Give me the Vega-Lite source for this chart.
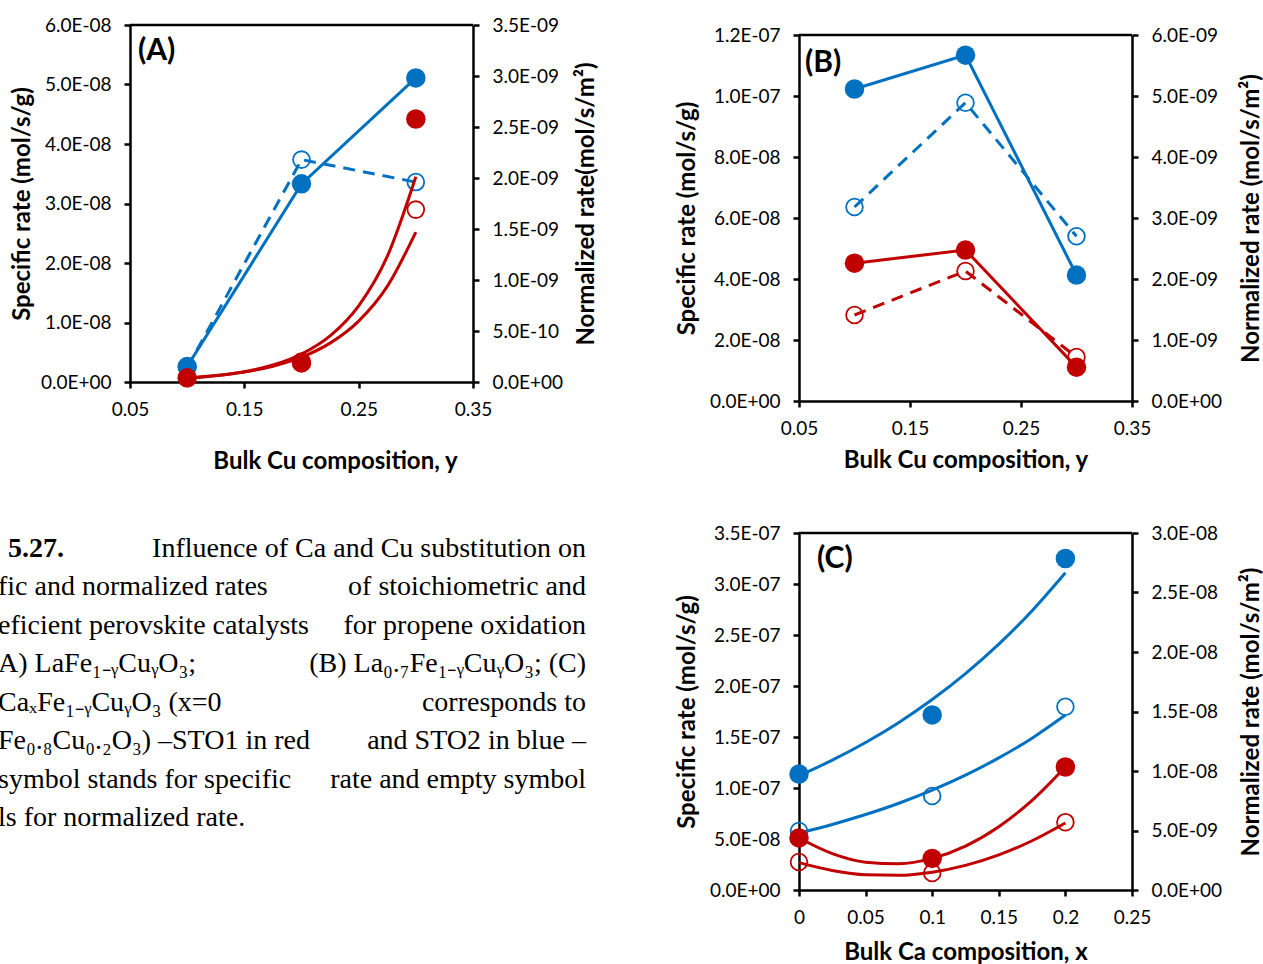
{
"$schema":"https://vega.github.io/schema/vega-lite/v6.json",
"autosize":{"type":"none"},
"padding":{"left":130,"top":25,"right":1133,"bottom":939},
"background":"white",
"config":{
  "view":{"stroke":null},
  "font":"Lato",
  "axis":{"domainColor":"#000","domainWidth":2.5,"tickColor":"#000","tickWidth":2.5,"tickSize":6,"grid":false,
    "labelColor":"#000","labelFont":"Lato","labelFontSize":19,"labelPadding":13,"labelFlush":false,"labelOverlap":false,"labelBound":false,
    "titleColor":"#000","titleFont":"Lato","titleFontSize":24,"titleFontWeight":"bold"},
  "axisX":{"labelPadding":12}
},
"datasets":{
  "A_spec":[{"x":0.1,"v":2.6e-9,"s":"STO2"},{"x":0.2,"v":3.33e-8,"s":"STO2"},{"x":0.3,"v":5.11e-8,"s":"STO2"},
            {"x":0.1,"v":7e-10,"s":"STO1"},{"x":0.2,"v":3.2e-9,"s":"STO1"},{"x":0.3,"v":4.42e-8,"s":"STO1"}],
  "A_norm":[{"x":0.1,"v":1.4e-10,"s":"STO2"},{"x":0.2,"v":2.18e-9,"s":"STO2"},{"x":0.3,"v":1.96e-9,"s":"STO2"},
            {"x":0.1,"v":4e-11,"s":"STO1"},{"x":0.2,"v":2.0e-10,"s":"STO1"},{"x":0.3,"v":1.69e-9,"s":"STO1"}],
  "A_fit_spec":[{"x":0.1,"v":6.4e-10,"s":"STO1"},{"x":0.125,"v":1.05e-9,"s":"STO1"},{"x":0.15,"v":1.73e-9,"s":"STO1"},{"x":0.175,"v":2.85e-9,"s":"STO1"},{"x":0.2,"v":4.7e-9,"s":"STO1"},{"x":0.225,"v":7.75e-9,"s":"STO1"},{"x":0.25,"v":1.28e-8,"s":"STO1"},{"x":0.275,"v":2.11e-8,"s":"STO1"},{"x":0.3,"v":3.45e-8,"s":"STO1"}],
  "A_fit_norm":[{"x":0.1,"v":4.0e-11,"s":"STO1"},{"x":0.125,"v":6.3e-11,"s":"STO1"},{"x":0.15,"v":9.8e-11,"s":"STO1"},{"x":0.175,"v":1.54e-10,"s":"STO1"},{"x":0.2,"v":2.43e-10,"s":"STO1"},{"x":0.225,"v":3.81e-10,"s":"STO1"},{"x":0.25,"v":5.97e-10,"s":"STO1"},{"x":0.275,"v":9.37e-10,"s":"STO1"},{"x":0.3,"v":1.47e-9,"s":"STO1"}],
  "B_spec":[{"x":0.1,"v":1.023e-7,"s":"STO2"},{"x":0.2,"v":1.134e-7,"s":"STO2"},{"x":0.3,"v":4.13e-8,"s":"STO2"},
            {"x":0.1,"v":4.52e-8,"s":"STO1"},{"x":0.2,"v":4.95e-8,"s":"STO1"},{"x":0.3,"v":1.11e-8,"s":"STO1"}],
  "B_norm":[{"x":0.1,"v":3.18e-9,"s":"STO2"},{"x":0.2,"v":4.89e-9,"s":"STO2"},{"x":0.3,"v":2.70e-9,"s":"STO2"},
            {"x":0.1,"v":1.41e-9,"s":"STO1"},{"x":0.2,"v":2.13e-9,"s":"STO1"},{"x":0.3,"v":7.2e-10,"s":"STO1"}],
  "C_spec":[{"x":0,"v":1.137e-7,"s":"STO2"},{"x":0.1,"v":1.716e-7,"s":"STO2"},{"x":0.2,"v":3.25e-7,"s":"STO2"},
            {"x":0,"v":5.1e-8,"s":"STO1"},{"x":0.1,"v":3.1e-8,"s":"STO1"},{"x":0.2,"v":1.206e-7,"s":"STO1"}],
  "C_norm":[{"x":0,"v":4.96e-9,"s":"STO2"},{"x":0.1,"v":7.9e-9,"s":"STO2"},{"x":0.2,"v":1.54e-8,"s":"STO2"},
            {"x":0,"v":2.35e-9,"s":"STO1"},{"x":0.1,"v":1.43e-9,"s":"STO1"},{"x":0.2,"v":5.7e-9,"s":"STO1"}],
  "C_fit_spec":[{"x":0,"v":1.12e-7,"s":"STO2"},{"x":0.025,"v":1.273e-7,"s":"STO2"},{"x":0.05,"v":1.446e-7,"s":"STO2"},{"x":0.075,"v":1.643e-7,"s":"STO2"},{"x":0.1,"v":1.867e-7,"s":"STO2"},{"x":0.125,"v":2.121e-7,"s":"STO2"},{"x":0.15,"v":2.41e-7,"s":"STO2"},{"x":0.175,"v":2.738e-7,"s":"STO2"},{"x":0.2,"v":3.11e-7,"s":"STO2"},
                {"x":0,"v":5.1e-8,"s":"STO1"},{"x":0.025,"v":3.57e-8,"s":"STO1"},{"x":0.05,"v":2.73e-8,"s":"STO1"},{"x":0.075,"v":2.57e-8,"s":"STO1"},{"x":0.1,"v":3.1e-8,"s":"STO1"},{"x":0.125,"v":4.31e-8,"s":"STO1"},{"x":0.15,"v":6.21e-8,"s":"STO1"},{"x":0.175,"v":8.79e-8,"s":"STO1"},{"x":0.2,"v":1.206e-7,"s":"STO1"}],
  "C_fit_norm":[{"x":0,"v":4.79e-9,"s":"STO2"},{"x":0.025,"v":5.51e-9,"s":"STO2"},{"x":0.05,"v":6.34e-9,"s":"STO2"},{"x":0.075,"v":7.29e-9,"s":"STO2"},{"x":0.1,"v":8.39e-9,"s":"STO2"},{"x":0.125,"v":9.65e-9,"s":"STO2"},{"x":0.15,"v":1.11e-8,"s":"STO2"},{"x":0.175,"v":1.276e-8,"s":"STO2"},{"x":0.2,"v":1.47e-8,"s":"STO2"},
                {"x":0,"v":2.3e-9,"s":"STO1"},{"x":0.025,"v":1.64e-9,"s":"STO1"},{"x":0.05,"v":1.28e-9,"s":"STO1"},{"x":0.075,"v":1.24e-9,"s":"STO1"},{"x":0.1,"v":1.5e-9,"s":"STO1"},{"x":0.125,"v":2.07e-9,"s":"STO1"},{"x":0.15,"v":2.95e-9,"s":"STO1"},{"x":0.175,"v":4.14e-9,"s":"STO1"},{"x":0.2,"v":5.63e-9,"s":"STO1"}],
  "caption":[
    {"line":1,"part":"bold","t":"5.27."},
    {"line":1,"part":"end","t":"Influence of Ca and Cu substitution on"},
    {"line":2,"part":"start","t":"fic and normalized rates"},
    {"line":2,"part":"end","t":"of stoichiometric and"},
    {"line":3,"part":"start","t":"eficient perovskite catalysts"},
    {"line":3,"part":"end","t":"for propene oxidation"},
    {"line":4,"part":"start","t":"A) LaFe₁₋ᵧCuᵧO₃;"},
    {"line":4,"part":"end","t":"(B) La₀.₇Fe₁₋ᵧCuᵧO₃; (C)"},
    {"line":5,"part":"start","t":"CaₓFe₁₋ᵧCuᵧO₃ (x=0"},
    {"line":5,"part":"end","t":"corresponds to"},
    {"line":6,"part":"start","t":"Fe₀.₈Cu₀.₂O₃) –STO1 in red"},
    {"line":6,"part":"end","t":"and STO2 in blue –"},
    {"line":7,"part":"start","t":"symbol stands for specific"},
    {"line":7,"part":"end","t":"rate and empty symbol"},
    {"line":8,"part":"start","t":"ls for normalized rate."}
  ]
},
"columns":2,
"spacing":{"row":51,"column":76},
"align":"each",
"concat":[
{
 "width":343,"height":357,
 "resolve":{"scale":{"y":"independent"}},
 "layer":[
  {"layer":[
   {"data":{"name":"A_norm"},"transform":[{"filter":"datum.s == 'STO2'"}],"mark":{"type":"line","strokeWidth":3,"strokeDash":[12,8]},
    "encoding":{"x":{"field":"x","type":"quantitative","scale":{"domain":[0.05,0.35],"nice":false,"zero":false},"axis":{"values":[0.05,0.15,0.25,0.35],"format":".2f","title":"Bulk Cu composition, y","titlePadding":30,"titleX":205}},
     "y":{"field":"v","type":"quantitative","scale":{"domain":[0,3.5e-9],"nice":false,"zero":false},"axis":{"orient":"right","title":"Normalized rate(mol/s/m²)","values":[0,5e-10,1e-9,1.5e-9,2e-9,2.5e-9,3e-9,3.5e-9],"labelExpr":"length(format(datum.value,'.1e')) == 6 ? replace(replace(format(datum.value,'.1e'),'e-','E-0'),'e+','E+0') : replace(format(datum.value,'.1e'),'e','E')","titleAngle":-90,"titleBaseline":"top","titlePadding":12}},
     "color":{"field":"s","type":"nominal","scale":{"domain":["STO1","STO2"],"range":["#C00000","#0070C0"]},"legend":null}}},
   {"data":{"name":"A_fit_norm"},"mark":{"type":"line","strokeWidth":3,"interpolate":"monotone"},
    "encoding":{"x":{"field":"x","type":"quantitative","scale":{"domain":[0.05,0.35],"nice":false,"zero":false},"axis":{"values":[0.05,0.15,0.25,0.35],"format":".2f","title":"Bulk Cu composition, y","titlePadding":30,"titleX":205}},
     "y":{"field":"v","type":"quantitative","scale":{"domain":[0,3.5e-9],"nice":false,"zero":false},"axis":{"orient":"right","title":"Normalized rate(mol/s/m²)","values":[0,5e-10,1e-9,1.5e-9,2e-9,2.5e-9,3e-9,3.5e-9],"labelExpr":"length(format(datum.value,'.1e')) == 6 ? replace(replace(format(datum.value,'.1e'),'e-','E-0'),'e+','E+0') : replace(format(datum.value,'.1e'),'e','E')","titleAngle":-90,"titleBaseline":"top","titlePadding":12}},
     "color":{"field":"s","type":"nominal","scale":{"domain":["STO1","STO2"],"range":["#C00000","#0070C0"]},"legend":null}}},
   {"data":{"name":"A_norm"},"mark":{"type":"point","shape":"circle","filled":false,"size":280,"strokeWidth":1.8,"opacity":1},
    "encoding":{"x":{"field":"x","type":"quantitative","scale":{"domain":[0.05,0.35],"nice":false,"zero":false},"axis":{"values":[0.05,0.15,0.25,0.35],"format":".2f","title":"Bulk Cu composition, y","titlePadding":30,"titleX":205}},
     "y":{"field":"v","type":"quantitative","scale":{"domain":[0,3.5e-9],"nice":false,"zero":false},"axis":{"orient":"right","title":"Normalized rate(mol/s/m²)","values":[0,5e-10,1e-9,1.5e-9,2e-9,2.5e-9,3e-9,3.5e-9],"labelExpr":"length(format(datum.value,'.1e')) == 6 ? replace(replace(format(datum.value,'.1e'),'e-','E-0'),'e+','E+0') : replace(format(datum.value,'.1e'),'e','E')","titleAngle":-90,"titleBaseline":"top","titlePadding":12}},
     "color":{"field":"s","type":"nominal","scale":{"domain":["STO1","STO2"],"range":["#C00000","#0070C0"]},"legend":null}}}
  ]},
  {"layer":[
   {"data":{"name":"A_spec"},"transform":[{"filter":"datum.s == 'STO2'"}],"mark":{"type":"line","strokeWidth":3},
    "encoding":{"x":{"field":"x","type":"quantitative","scale":{"domain":[0.05,0.35],"nice":false,"zero":false},"axis":{"values":[0.05,0.15,0.25,0.35],"format":".2f","title":"Bulk Cu composition, y","titlePadding":30,"titleX":205}},
     "y":{"field":"v","type":"quantitative","scale":{"domain":[0,6e-8],"nice":false,"zero":false},"axis":{"orient":"left","title":"Specific rate (mol/s/g)","values":[0,1e-8,2e-8,3e-8,4e-8,5e-8,6e-8],"labelExpr":"length(format(datum.value,'.1e')) == 6 ? replace(replace(format(datum.value,'.1e'),'e-','E-0'),'e+','E+0') : replace(format(datum.value,'.1e'),'e','E')","titlePadding":6}},
     "color":{"field":"s","type":"nominal","scale":{"domain":["STO1","STO2"],"range":["#C00000","#0070C0"]},"legend":null}}},
   {"data":{"name":"A_fit_spec"},"mark":{"type":"line","strokeWidth":3,"interpolate":"monotone"},
    "encoding":{"x":{"field":"x","type":"quantitative","scale":{"domain":[0.05,0.35],"nice":false,"zero":false},"axis":{"values":[0.05,0.15,0.25,0.35],"format":".2f","title":"Bulk Cu composition, y","titlePadding":30,"titleX":205}},
     "y":{"field":"v","type":"quantitative","scale":{"domain":[0,6e-8],"nice":false,"zero":false},"axis":{"orient":"left","title":"Specific rate (mol/s/g)","values":[0,1e-8,2e-8,3e-8,4e-8,5e-8,6e-8],"labelExpr":"length(format(datum.value,'.1e')) == 6 ? replace(replace(format(datum.value,'.1e'),'e-','E-0'),'e+','E+0') : replace(format(datum.value,'.1e'),'e','E')","titlePadding":6}},
     "color":{"field":"s","type":"nominal","scale":{"domain":["STO1","STO2"],"range":["#C00000","#0070C0"]},"legend":null}}},
   {"data":{"name":"A_spec"},"mark":{"type":"point","shape":"circle","filled":true,"size":380,"opacity":1},
    "encoding":{"x":{"field":"x","type":"quantitative","scale":{"domain":[0.05,0.35],"nice":false,"zero":false},"axis":{"values":[0.05,0.15,0.25,0.35],"format":".2f","title":"Bulk Cu composition, y","titlePadding":30,"titleX":205}},
     "y":{"field":"v","type":"quantitative","scale":{"domain":[0,6e-8],"nice":false,"zero":false},"axis":{"orient":"left","title":"Specific rate (mol/s/g)","values":[0,1e-8,2e-8,3e-8,4e-8,5e-8,6e-8],"labelExpr":"length(format(datum.value,'.1e')) == 6 ? replace(replace(format(datum.value,'.1e'),'e-','E-0'),'e+','E+0') : replace(format(datum.value,'.1e'),'e','E')","titlePadding":6}},
     "color":{"field":"s","type":"nominal","scale":{"domain":["STO1","STO2"],"range":["#C00000","#0070C0"]},"legend":null}}},
   {"data":{"values":[{}]},"mark":{"type":"rule","color":"#000","strokeWidth":2.5},
    "encoding":{"y":{"datum":6e-8,"type":"quantitative","scale":{"domain":[0,6e-8],"nice":false,"zero":false},"axis":{"orient":"left","title":"Specific rate (mol/s/g)","values":[0,1e-8,2e-8,3e-8,4e-8,5e-8,6e-8],"labelExpr":"length(format(datum.value,'.1e')) == 6 ? replace(replace(format(datum.value,'.1e'),'e-','E-0'),'e+','E+0') : replace(format(datum.value,'.1e'),'e','E')","titlePadding":6}}}},
   {"data":{"values":[{}]},"mark":{"type":"text","text":"(A)","align":"left","baseline":"middle","font":"Lato","fontSize":30,"fontWeight":"bold","color":"#000"},
    "encoding":{"x":{"datum":0.057,"type":"quantitative","scale":{"domain":[0.05,0.35],"nice":false,"zero":false},"axis":{"values":[0.05,0.15,0.25,0.35],"format":".2f","title":"Bulk Cu composition, y","titlePadding":30,"titleX":205}},
     "y":{"datum":5.56e-8,"type":"quantitative","scale":{"domain":[0,6e-8],"nice":false,"zero":false},"axis":{"orient":"left","title":"Specific rate (mol/s/g)","values":[0,1e-8,2e-8,3e-8,4e-8,5e-8,6e-8],"labelExpr":"length(format(datum.value,'.1e')) == 6 ? replace(replace(format(datum.value,'.1e'),'e-','E-0'),'e+','E+0') : replace(format(datum.value,'.1e'),'e','E')","titlePadding":6}}}}
  ]}
 ]
},
{
 "width":333,"height":376,
 "resolve":{"scale":{"y":"independent"}},
 "layer":[
  {"layer":[
   {"data":{"name":"B_norm"},"mark":{"type":"line","strokeWidth":3,"strokeDash":[12,8]},
    "encoding":{"x":{"field":"x","type":"quantitative","scale":{"domain":[0.05,0.35],"nice":false,"zero":false},"axis":{"values":[0.05,0.15,0.25,0.35],"format":".2f","title":"Bulk Cu composition, y","titlePadding":10}},
     "y":{"field":"v","type":"quantitative","scale":{"domain":[0,6e-9],"range":[376,10],"nice":false,"zero":false},"axis":{"orient":"right","title":"Normalized rate (mol/s/m²)","values":[0,1e-9,2e-9,3e-9,4e-9,5e-9,6e-9],"labelExpr":"length(format(datum.value,'.1e')) == 6 ? replace(replace(format(datum.value,'.1e'),'e-','E-0'),'e+','E+0') : replace(format(datum.value,'.1e'),'e','E')","titleAngle":-90,"titleBaseline":"top","titlePadding":18}},
     "color":{"field":"s","type":"nominal","scale":{"domain":["STO1","STO2"],"range":["#C00000","#0070C0"]},"legend":null}}},
   {"data":{"name":"B_norm"},"mark":{"type":"point","shape":"circle","filled":false,"size":280,"strokeWidth":1.8,"opacity":1},
    "encoding":{"x":{"field":"x","type":"quantitative","scale":{"domain":[0.05,0.35],"nice":false,"zero":false},"axis":{"values":[0.05,0.15,0.25,0.35],"format":".2f","title":"Bulk Cu composition, y","titlePadding":10}},
     "y":{"field":"v","type":"quantitative","scale":{"domain":[0,6e-9],"range":[376,10],"nice":false,"zero":false},"axis":{"orient":"right","title":"Normalized rate (mol/s/m²)","values":[0,1e-9,2e-9,3e-9,4e-9,5e-9,6e-9],"labelExpr":"length(format(datum.value,'.1e')) == 6 ? replace(replace(format(datum.value,'.1e'),'e-','E-0'),'e+','E+0') : replace(format(datum.value,'.1e'),'e','E')","titleAngle":-90,"titleBaseline":"top","titlePadding":18}},
     "color":{"field":"s","type":"nominal","scale":{"domain":["STO1","STO2"],"range":["#C00000","#0070C0"]},"legend":null}}}
  ]},
  {"layer":[
   {"data":{"name":"B_spec"},"mark":{"type":"line","strokeWidth":3},
    "encoding":{"x":{"field":"x","type":"quantitative","scale":{"domain":[0.05,0.35],"nice":false,"zero":false},"axis":{"values":[0.05,0.15,0.25,0.35],"format":".2f","title":"Bulk Cu composition, y","titlePadding":10}},
     "y":{"field":"v","type":"quantitative","scale":{"domain":[0,1.2e-7],"range":[376,10],"nice":false,"zero":false},"axis":{"orient":"left","title":"Specific rate (mol/s/g)","values":[0,2e-8,4e-8,6e-8,8e-8,1e-7,1.2e-7],"labelExpr":"length(format(datum.value,'.1e')) == 6 ? replace(replace(format(datum.value,'.1e'),'e-','E-0'),'e+','E+0') : replace(format(datum.value,'.1e'),'e','E')","titlePadding":10}},
     "color":{"field":"s","type":"nominal","scale":{"domain":["STO1","STO2"],"range":["#C00000","#0070C0"]},"legend":null}}},
   {"data":{"name":"B_spec"},"mark":{"type":"point","shape":"circle","filled":true,"size":380,"opacity":1},
    "encoding":{"x":{"field":"x","type":"quantitative","scale":{"domain":[0.05,0.35],"nice":false,"zero":false},"axis":{"values":[0.05,0.15,0.25,0.35],"format":".2f","title":"Bulk Cu composition, y","titlePadding":10}},
     "y":{"field":"v","type":"quantitative","scale":{"domain":[0,1.2e-7],"range":[376,10],"nice":false,"zero":false},"axis":{"orient":"left","title":"Specific rate (mol/s/g)","values":[0,2e-8,4e-8,6e-8,8e-8,1e-7,1.2e-7],"labelExpr":"length(format(datum.value,'.1e')) == 6 ? replace(replace(format(datum.value,'.1e'),'e-','E-0'),'e+','E+0') : replace(format(datum.value,'.1e'),'e','E')","titlePadding":10}},
     "color":{"field":"s","type":"nominal","scale":{"domain":["STO1","STO2"],"range":["#C00000","#0070C0"]},"legend":null}}},
   {"data":{"values":[{}]},"mark":{"type":"rule","color":"#000","strokeWidth":2.5},
    "encoding":{"y":{"datum":1.2e-7,"type":"quantitative","scale":{"domain":[0,1.2e-7],"range":[376,10],"nice":false,"zero":false},"axis":{"orient":"left","title":"Specific rate (mol/s/g)","values":[0,2e-8,4e-8,6e-8,8e-8,1e-7,1.2e-7],"labelExpr":"length(format(datum.value,'.1e')) == 6 ? replace(replace(format(datum.value,'.1e'),'e-','E-0'),'e+','E+0') : replace(format(datum.value,'.1e'),'e','E')","titlePadding":10}}}},
   {"data":{"values":[{}]},"mark":{"type":"text","text":"(B)","align":"left","baseline":"middle","font":"Lato","fontSize":30,"fontWeight":"bold","color":"#000"},
    "encoding":{"x":{"datum":0.0554,"type":"quantitative","scale":{"domain":[0.05,0.35],"nice":false,"zero":false},"axis":{"values":[0.05,0.15,0.25,0.35],"format":".2f","title":"Bulk Cu composition, y","titlePadding":10}},
     "y":{"datum":1.108e-7,"type":"quantitative","scale":{"domain":[0,1.2e-7],"range":[376,10],"nice":false,"zero":false},"axis":{"orient":"left","title":"Specific rate (mol/s/g)","values":[0,2e-8,4e-8,6e-8,8e-8,1e-7,1.2e-7],"labelExpr":"length(format(datum.value,'.1e')) == 6 ? replace(replace(format(datum.value,'.1e'),'e-','E-0'),'e+','E+0') : replace(format(datum.value,'.1e'),'e','E')","titlePadding":10}}}}
  ]}
 ]
},
{
 "width":456,"height":300,
 "data":{"name":"caption"},
 "layer":[
  {"transform":[{"filter":"datum.part == 'start'"}],"mark":{"type":"text","align":"left","baseline":"middle","font":"Liberation Serif","fontSize":28,"color":"#000"},
   "encoding":{"x":{"datum":0,"type":"quantitative","scale":{"domain":[0,1],"range":[-132,456]},"axis":null},"y":{"field":"line","type":"quantitative","scale":{"domain":[1,8],"range":[16,285]},"axis":null},"text":{"field":"t"}}},
  {"transform":[{"filter":"datum.part == 'bold'"}],"mark":{"type":"text","align":"left","baseline":"middle","font":"Liberation Serif","fontSize":28,"fontWeight":"bold","color":"#000"},
   "encoding":{"x":{"datum":0.017,"type":"quantitative","scale":{"domain":[0,1],"range":[-132,456]},"axis":null},"y":{"field":"line","type":"quantitative","scale":{"domain":[1,8],"range":[16,285]},"axis":null},"text":{"field":"t"}}},
  {"transform":[{"filter":"datum.part == 'end'"}],"mark":{"type":"text","align":"right","baseline":"middle","font":"Liberation Serif","fontSize":28,"color":"#000"},
   "encoding":{"x":{"datum":1,"type":"quantitative","scale":{"domain":[0,1],"range":[-132,456]},"axis":null},"y":{"field":"line","type":"quantitative","scale":{"domain":[1,8],"range":[16,285]},"axis":null},"text":{"field":"t"}}}
 ]
},
{
 "width":333,"height":357,
 "resolve":{"scale":{"y":"independent"}},
 "layer":[
  {"layer":[
   {"data":{"name":"C_fit_norm"},"mark":{"type":"line","strokeWidth":3,"interpolate":"monotone"},
    "encoding":{"x":{"field":"x","type":"quantitative","scale":{"domain":[0,0.25],"nice":false,"zero":false},"axis":{"values":[0,0.05,0.1,0.15,0.2,0.25],"format":"~g","title":"Bulk Ca composition, x","titlePadding":13}},
     "y":{"field":"v","type":"quantitative","scale":{"domain":[0,3e-8],"nice":false,"zero":false},"axis":{"orient":"right","title":"Normalized rate (mol/s/m²)","values":[0,5e-9,1e-8,1.5e-8,2e-8,2.5e-8,3e-8],"labelExpr":"length(format(datum.value,'.1e')) == 6 ? replace(replace(format(datum.value,'.1e'),'e-','E-0'),'e+','E+0') : replace(format(datum.value,'.1e'),'e','E')","titleAngle":-90,"titleBaseline":"top","titlePadding":18}},
     "color":{"field":"s","type":"nominal","scale":{"domain":["STO1","STO2"],"range":["#C00000","#0070C0"]},"legend":null}}},
   {"data":{"name":"C_norm"},"mark":{"type":"point","shape":"circle","filled":false,"size":280,"strokeWidth":1.8,"opacity":1},
    "encoding":{"x":{"field":"x","type":"quantitative","scale":{"domain":[0,0.25],"nice":false,"zero":false},"axis":{"values":[0,0.05,0.1,0.15,0.2,0.25],"format":"~g","title":"Bulk Ca composition, x","titlePadding":13}},
     "y":{"field":"v","type":"quantitative","scale":{"domain":[0,3e-8],"nice":false,"zero":false},"axis":{"orient":"right","title":"Normalized rate (mol/s/m²)","values":[0,5e-9,1e-8,1.5e-8,2e-8,2.5e-8,3e-8],"labelExpr":"length(format(datum.value,'.1e')) == 6 ? replace(replace(format(datum.value,'.1e'),'e-','E-0'),'e+','E+0') : replace(format(datum.value,'.1e'),'e','E')","titleAngle":-90,"titleBaseline":"top","titlePadding":18}},
     "color":{"field":"s","type":"nominal","scale":{"domain":["STO1","STO2"],"range":["#C00000","#0070C0"]},"legend":null}}}
  ]},
  {"layer":[
   {"data":{"name":"C_fit_spec"},"mark":{"type":"line","strokeWidth":3,"interpolate":"monotone"},
    "encoding":{"x":{"field":"x","type":"quantitative","scale":{"domain":[0,0.25],"nice":false,"zero":false},"axis":{"values":[0,0.05,0.1,0.15,0.2,0.25],"format":"~g","title":"Bulk Ca composition, x","titlePadding":13}},
     "y":{"field":"v","type":"quantitative","scale":{"domain":[0,3.5e-7],"nice":false,"zero":false},"axis":{"orient":"left","title":"Specific rate (mol/s/g)","values":[0,5e-8,1e-7,1.5e-7,2e-7,2.5e-7,3e-7,3.5e-7],"labelExpr":"length(format(datum.value,'.1e')) == 6 ? replace(replace(format(datum.value,'.1e'),'e-','E-0'),'e+','E+0') : replace(format(datum.value,'.1e'),'e','E')","titlePadding":10}},
     "color":{"field":"s","type":"nominal","scale":{"domain":["STO1","STO2"],"range":["#C00000","#0070C0"]},"legend":null}}},
   {"data":{"name":"C_spec"},"mark":{"type":"point","shape":"circle","filled":true,"size":380,"opacity":1},
    "encoding":{"x":{"field":"x","type":"quantitative","scale":{"domain":[0,0.25],"nice":false,"zero":false},"axis":{"values":[0,0.05,0.1,0.15,0.2,0.25],"format":"~g","title":"Bulk Ca composition, x","titlePadding":13}},
     "y":{"field":"v","type":"quantitative","scale":{"domain":[0,3.5e-7],"nice":false,"zero":false},"axis":{"orient":"left","title":"Specific rate (mol/s/g)","values":[0,5e-8,1e-7,1.5e-7,2e-7,2.5e-7,3e-7,3.5e-7],"labelExpr":"length(format(datum.value,'.1e')) == 6 ? replace(replace(format(datum.value,'.1e'),'e-','E-0'),'e+','E+0') : replace(format(datum.value,'.1e'),'e','E')","titlePadding":10}},
     "color":{"field":"s","type":"nominal","scale":{"domain":["STO1","STO2"],"range":["#C00000","#0070C0"]},"legend":null}}},
   {"data":{"values":[{}]},"mark":{"type":"rule","color":"#000","strokeWidth":2.5},
    "encoding":{"y":{"datum":3.5e-7,"type":"quantitative","scale":{"domain":[0,3.5e-7],"nice":false,"zero":false},"axis":{"orient":"left","title":"Specific rate (mol/s/g)","values":[0,5e-8,1e-7,1.5e-7,2e-7,2.5e-7,3e-7,3.5e-7],"labelExpr":"length(format(datum.value,'.1e')) == 6 ? replace(replace(format(datum.value,'.1e'),'e-','E-0'),'e+','E+0') : replace(format(datum.value,'.1e'),'e','E')","titlePadding":10}}}},
   {"data":{"values":[{}]},"mark":{"type":"text","text":"(C)","align":"left","baseline":"middle","font":"Lato","fontSize":30,"fontWeight":"bold","color":"#000"},
    "encoding":{"x":{"datum":0.0135,"type":"quantitative","scale":{"domain":[0,0.25],"nice":false,"zero":false},"axis":{"values":[0,0.05,0.1,0.15,0.2,0.25],"format":"~g","title":"Bulk Ca composition, x","titlePadding":13}},
     "y":{"datum":3.25e-7,"type":"quantitative","scale":{"domain":[0,3.5e-7],"nice":false,"zero":false},"axis":{"orient":"left","title":"Specific rate (mol/s/g)","values":[0,5e-8,1e-7,1.5e-7,2e-7,2.5e-7,3e-7,3.5e-7],"labelExpr":"length(format(datum.value,'.1e')) == 6 ? replace(replace(format(datum.value,'.1e'),'e-','E-0'),'e+','E+0') : replace(format(datum.value,'.1e'),'e','E')","titlePadding":10}}}}
  ]}
 ]
}
]
}
